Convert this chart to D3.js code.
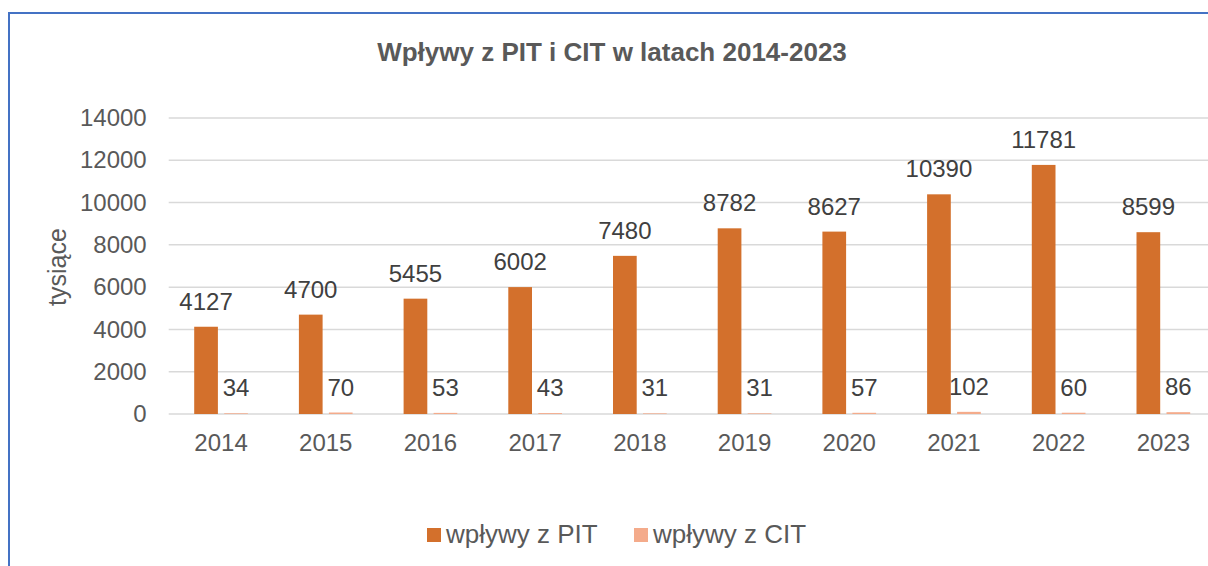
<!doctype html>
<html lang="pl">
<head>
<meta charset="utf-8">
<script src="https://d3js.org/d3.v7.min.js"></script>
<style>
  body { margin: 0; background: #fff; }
  text { font-family: "Liberation Sans", Arial, sans-serif; }
</style>
</head>
<body>
<div id="chart"></div>
<script>
// data
var years = ["2014", "2015", "2016", "2017", "2018", "2019", "2020", "2021", "2022", "2023"];
var pit = [4127, 4700, 5455, 6002, 7480, 8782, 8627, 10390, 11781, 8599];
var cit = [34, 70, 53, 43, 31, 31, 57, 102, 60, 86];
var seriesNames = ["wpływy z PIT", "wpływy z CIT"];
var yTicks = [0, 2000, 4000, 6000, 8000, 10000, 12000, 14000];

var W = 1208, H = 566;
var colors = { "wpływy z PIT": "#d3702c", "wpływy z CIT": "#f4ab8b" };

var svg = d3.select("#chart").append("svg")
    .attr("width", W).attr("height", H);

// chart border
svg.append("rect")
    .attr("x", 9).attr("y", 13)
    .attr("width", W + 20).attr("height", H + 20)
    .attr("fill", "none").attr("stroke", "#4472c4").attr("stroke-width", 2);

var plot = { left: 168.7, right: 1215.7, top: 118, bottom: 414 };

var x0 = d3.scaleBand().domain(years).range([plot.left, plot.right]).padding(0);
var x1 = d3.scaleBand().domain(seriesNames).range([0, x0.bandwidth()])
    .paddingInner(0.21).paddingOuter(0.85);
var y = d3.scaleLinear().domain([0, 14000]).range([plot.bottom, plot.top]);

// gridlines
svg.append("g").selectAll("line")
    .data(yTicks)
    .join("line")
    .attr("x1", plot.left).attr("x2", plot.right)
    .attr("y1", d => y(d)).attr("y2", d => y(d))
    .attr("stroke", "#d9d9d9").attr("stroke-width", 1.5);

// y axis labels
var yAxis = svg.append("g")
    .attr("transform", "translate(" + (plot.left - 6) + ",0)")
    .call(d3.axisLeft(y).tickValues(yTicks).tickSize(0).tickPadding(16).tickFormat(d3.format("d")));
yAxis.select(".domain").remove();
yAxis.selectAll("text").attr("font-size", 24).attr("fill", "#595959")
    .attr("font-family", "Liberation Sans, Arial, sans-serif");

// x axis labels
var xAxis = svg.append("g")
    .attr("transform", "translate(0," + plot.bottom + ")")
    .call(d3.axisBottom(x0).tickSize(0).tickPadding(20));
xAxis.select(".domain").remove();
xAxis.selectAll("text").attr("font-size", 24).attr("fill", "#595959")
    .attr("font-family", "Liberation Sans, Arial, sans-serif");

var rows = years.map((yr, i) => ({ year: yr, values: [
    { key: seriesNames[0], v: pit[i] },
    { key: seriesNames[1], v: cit[i] }
] }));

var groups = svg.append("g").selectAll("g")
    .data(rows)
    .join("g")
    .attr("transform", d => "translate(" + x0(d.year) + ",0)");

groups.selectAll("rect")
    .data(d => d.values)
    .join("rect")
    .attr("x", d => x1(d.key))
    .attr("width", x1.bandwidth())
    .attr("y", d => y(d.v))
    .attr("height", d => plot.bottom - y(d.v))
    .attr("fill", d => colors[d.key]);

groups.selectAll("text")
    .data(d => d.values)
    .join("text")
    .attr("x", d => x1(d.key) + x1.bandwidth() / 2)
    .attr("y", d => y(d.v) - 17)
    .attr("text-anchor", "middle")
    .attr("font-size", 24)
    .attr("fill", "#404040")
    .text(d => d.v);

// title
svg.append("text")
    .attr("x", 612).attr("y", 61)
    .attr("text-anchor", "middle")
    .attr("font-size", 26).attr("font-weight", "bold")
    .attr("fill", "#595959")
    .text("Wpływy z PIT i CIT w latach 2014-2023");

// y axis title
svg.append("text")
    .attr("transform", "translate(66,267) rotate(-90)")
    .attr("text-anchor", "middle")
    .attr("font-size", 25).attr("fill", "#595959")
    .text("tysiące");

// legend
var legendX = [427, 634];
var legend = svg.append("g").selectAll("g")
    .data(seriesNames)
    .join("g")
    .attr("transform", (d, i) => "translate(" + legendX[i] + ",528)");
legend.append("rect")
    .attr("width", 14).attr("height", 14)
    .attr("fill", d => colors[d]);
legend.append("text")
    .attr("x", 19).attr("y", 15)
    .attr("font-size", 26).attr("fill", "#595959")
    .text(d => d);
</script>
</body>
</html>
